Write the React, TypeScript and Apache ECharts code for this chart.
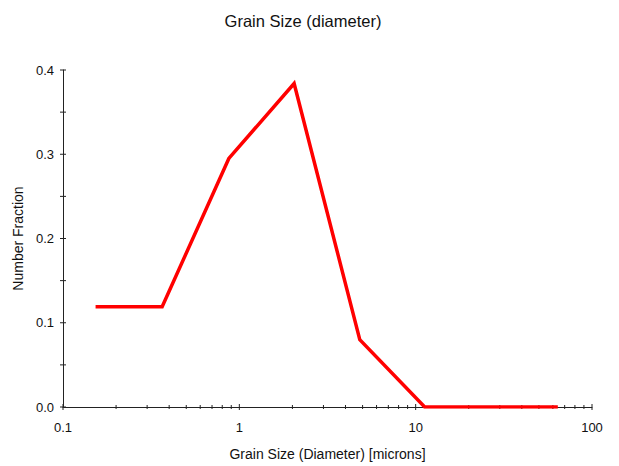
import React, { useEffect, useRef } from "react";
import * as echarts from "echarts";

const chartTitle = "Grain Size (diameter)";
const xAxisName = "Grain Size (Diameter) [microns]";
const yAxisName = "Number Fraction";

const grainSize = [0.153, 0.365, 0.872, 2.045, 4.82, 11.25, 64];
const numberFraction = [0.119, 0.119, 0.295, 0.384, 0.08, 0, 0];

const xMajorTicks = [0.1, 1, 10, 100];
const xMinorTicks = [
  0.2, 0.3, 0.4, 0.5, 0.6, 0.7, 0.8, 0.9,
  2, 3, 4, 5, 6, 7, 8, 9,
  20, 30, 40, 50, 60, 70, 80, 90,
];
const yTicks = [0, 0.05, 0.1, 0.15, 0.2, 0.25, 0.3, 0.35, 0.4];

const FONT = "'Liberation Sans', Arial, sans-serif";
const AXIS_COLOR = "#222";
const TEXT_COLOR = "#111";

export default function App() {
  const ref = useRef<HTMLDivElement>(null);

  useEffect(() => {
    if (!ref.current) return;
    const chart = echarts.init(ref.current, undefined, { renderer: "svg" });

    const xTickData = [
      ...xMajorTicks.map((v) => [v, 0, 3]),
      ...xMinorTicks.map((v) => [v, 0, 2]),
    ];
    const yTickData = yTicks.map((v) => [0.1, v, 3]);

    const option: any = {
      animation: false,
      backgroundColor: "#fff",
      graphic: [
        {
          type: "text",
          x: 303,
          y: 21,
          style: {
            text: chartTitle,
            fontSize: 16.5,
            fontFamily: FONT,
            fill: TEXT_COLOR,
            align: "center",
            verticalAlign: "middle",
          },
        },
      ],
      grid: { left: 63, right: 27, top: 70, bottom: 57, containLabel: false },
      xAxis: {
        type: "log",
        logBase: 10,
        min: 0.1,
        max: 100,
        name: xAxisName,
        nameLocation: "middle",
        nameGap: 40,
        nameTextStyle: { fontSize: 14, fontFamily: FONT, color: TEXT_COLOR },
        axisLine: { show: true, lineStyle: { color: AXIS_COLOR, width: 1 } },
        axisTick: { show: false },
        minorTick: { show: false },
        splitLine: { show: false },
        axisLabel: {
          margin: 14,
          fontSize: 13,
          fontFamily: FONT,
          color: TEXT_COLOR,
          formatter: (v: number) => String(+v.toPrecision(3)),
        },
      },
      yAxis: {
        type: "value",
        min: 0,
        max: 0.4,
        interval: 0.1,
        name: yAxisName,
        nameLocation: "middle",
        nameGap: 36,
        nameTextStyle: { fontSize: 14, fontFamily: FONT, color: TEXT_COLOR },
        axisLine: { show: true, lineStyle: { color: AXIS_COLOR, width: 1 } },
        axisTick: { show: false },
        splitLine: { show: false },
        axisLabel: {
          margin: 9,
          fontSize: 13,
          fontFamily: FONT,
          color: TEXT_COLOR,
          formatter: (v: number) => v.toFixed(1),
        },
      },
      series: [
        {
          type: "custom",
          name: "xTicks",
          silent: true,
          clip: false,
          z: 3,
          data: xTickData,
          encode: { x: 0, y: 1 },
          renderItem: (params: any, api: any) => {
            const p = api.coord([api.value(0), api.value(1)]);
            const h = api.value(2);
            return {
              type: "line",
              shape: { x1: p[0], y1: p[1] - h, x2: p[0], y2: p[1] + h },
              style: { stroke: AXIS_COLOR, lineWidth: 1 },
            };
          },
        },
        {
          type: "custom",
          name: "yTicks",
          silent: true,
          clip: false,
          z: 3,
          data: yTickData,
          encode: { x: 0, y: 1 },
          renderItem: (params: any, api: any) => {
            const p = api.coord([api.value(0), api.value(1)]);
            const h = api.value(2);
            return {
              type: "line",
              shape: { x1: p[0] - h, y1: p[1], x2: p[0] + h, y2: p[1] },
              style: { stroke: AXIS_COLOR, lineWidth: 1 },
            };
          },
        },
        {
          type: "line",
          name: "Number Fraction",
          data: grainSize.map((x, i) => [x, numberFraction[i]]),
          showSymbol: false,
          symbol: "none",
          z: 5,
          lineStyle: { color: "#ff0000", width: 3.5, join: "miter" },
        },
      ],
    };

    chart.setOption(option);
    return () => chart.dispose();
  }, []);

  return (
    <div
      ref={ref}
      style={{ position: "fixed", left: 0, top: 0, width: 619, height: 466, background: "#fff" }}
    />
  );
}
